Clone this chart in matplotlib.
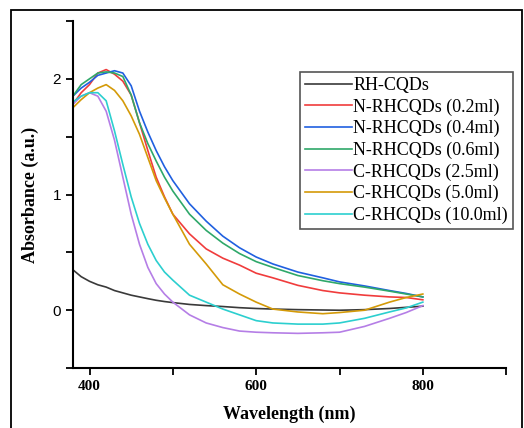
import numpy as np
import matplotlib
matplotlib.use("Agg")
import matplotlib.pyplot as plt
from matplotlib.patches import Rectangle
from matplotlib.ticker import MultipleLocator

# -------------------- Data --------------------
wl = [380, 390, 400, 410, 420, 430, 440, 450, 460, 470, 480, 490, 500, 520, 540,
      560, 580, 600, 620, 650, 680, 700, 730, 760, 780, 800]

rh = [0.35, 0.29, 0.25, 0.22, 0.20, 0.17, 0.15, 0.13, 0.115, 0.10, 0.086, 0.075, 0.066,
      0.05, 0.04, 0.032, 0.022, 0.015, 0.01, 0.005, 0.002, 0.0, 0.005, 0.015, 0.025, 0.035]
n02 = [1.78, 1.88, 1.95, 2.05, 2.08, 2.04, 1.98, 1.86, 1.62, 1.38, 1.15, 0.98, 0.83,
       0.66, 0.53, 0.45, 0.39, 0.32, 0.28, 0.215, 0.17, 0.15, 0.13, 0.115, 0.11, 0.09]
n04 = [1.85, 1.92, 1.97, 2.03, 2.05, 2.07, 2.05, 1.94, 1.72, 1.54, 1.38, 1.24, 1.12,
       0.92, 0.77, 0.64, 0.54, 0.46, 0.40, 0.33, 0.28, 0.245, 0.21, 0.17, 0.145, 0.115]
n06 = [1.85, 1.95, 2.00, 2.05, 2.06, 2.05, 2.02, 1.86, 1.62, 1.44, 1.29, 1.15, 1.03,
       0.83, 0.69, 0.58, 0.49, 0.42, 0.37, 0.30, 0.255, 0.23, 0.20, 0.165, 0.14, 0.115]
c25 = [1.78, 1.85, 1.88, 1.85, 1.72, 1.47, 1.15, 0.83, 0.57, 0.37, 0.23, 0.14, 0.07,
       -0.04, -0.11, -0.15, -0.18, -0.19, -0.195, -0.2, -0.195, -0.19, -0.14, -0.07, -0.02, 0.04]
c50 = [1.75, 1.82, 1.88, 1.92, 1.95, 1.90, 1.81, 1.68, 1.52, 1.32, 1.12, 0.97, 0.83,
       0.57, 0.40, 0.22, 0.14, 0.07, 0.01, -0.015, -0.03, -0.02, 0.0, 0.07, 0.11, 0.14]
c100 = [1.80, 1.85, 1.88, 1.88, 1.81, 1.55, 1.26, 0.98, 0.75, 0.57, 0.43, 0.33, 0.26,
        0.13, 0.07, 0.01, -0.04, -0.09, -0.11, -0.12, -0.12, -0.11, -0.07, -0.015, 0.02, 0.07]

labels = ['RH-CQDs', 'N-RHCQDs (0.2ml)', 'N-RHCQDs (0.4ml)', 'N-RHCQDs (0.6ml)',
          'C-RHCQDs (2.5ml)', 'C-RHCQDs (5.0ml)', 'C-RHCQDs (10.0ml)']
series = [rh, n02, n04, n06, c25, c50, c100]
colors = ['#3a3a3a', '#f03c3c', '#2060e0', '#2fa86a', '#b57ee6', '#d49a08', '#2ccfcf']

# -------------------- Plot --------------------
fig = plt.figure(figsize=(5.24, 4.28), dpi=100)
ax = fig.add_axes([0.139, 0.140, 0.827, 0.811])

for ys, lab, c in zip(series, labels, colors):
    ax.plot(wl, ys, color=c, lw=1.2, label=lab)

ax.set_xlim(380, 900)
ax.set_ylim(-0.5, 2.5)
ax.xaxis.set_major_locator(MultipleLocator(200))
ax.xaxis.set_minor_locator(MultipleLocator(100))
ax.yaxis.set_major_locator(MultipleLocator(1))
ax.yaxis.set_minor_locator(MultipleLocator(0.5))
ax.tick_params(which='both', direction='out', length=5, width=1.3)

for s in ['top', 'right']:
    ax.spines[s].set_visible(False)
for s in ['left', 'bottom']:
    ax.spines[s].set_linewidth(1.5)

for t in ax.get_xticklabels():
    t.set_fontfamily('Liberation Serif')
    t.set_fontweight('bold')
    t.set_fontsize(11)
for t in ax.get_yticklabels():
    t.set_fontfamily('Liberation Sans')
    t.set_fontsize(11)

ax.set_xlabel('Wavelength (nm)', family='Liberation Serif', weight='bold', fontsize=13, labelpad=9)
ax.set_ylabel('Absorbance (a.u.)', family='Liberation Serif', weight='bold', fontsize=13, labelpad=10)

leg = ax.legend(loc='upper right', bbox_to_anchor=(1.016, 0.853),
                prop={'family': 'Liberation Serif', 'size': 13},
                fancybox=False, framealpha=1, edgecolor='#555555',
                handlelength=2.6, handletextpad=0.1, labelspacing=0.24,
                borderpad=0.28, borderaxespad=0.0)
leg.get_frame().set_linewidth(1.2)

# outer frame around the whole figure
fig.patches.append(Rectangle((11 / 524, -0.01), 511 / 524, 1 - 10 / 428 + 0.01,
                             transform=fig.transFigure, fill=False,
                             edgecolor='black', lw=1.3))

fig.savefig('out.png', dpi=100)
